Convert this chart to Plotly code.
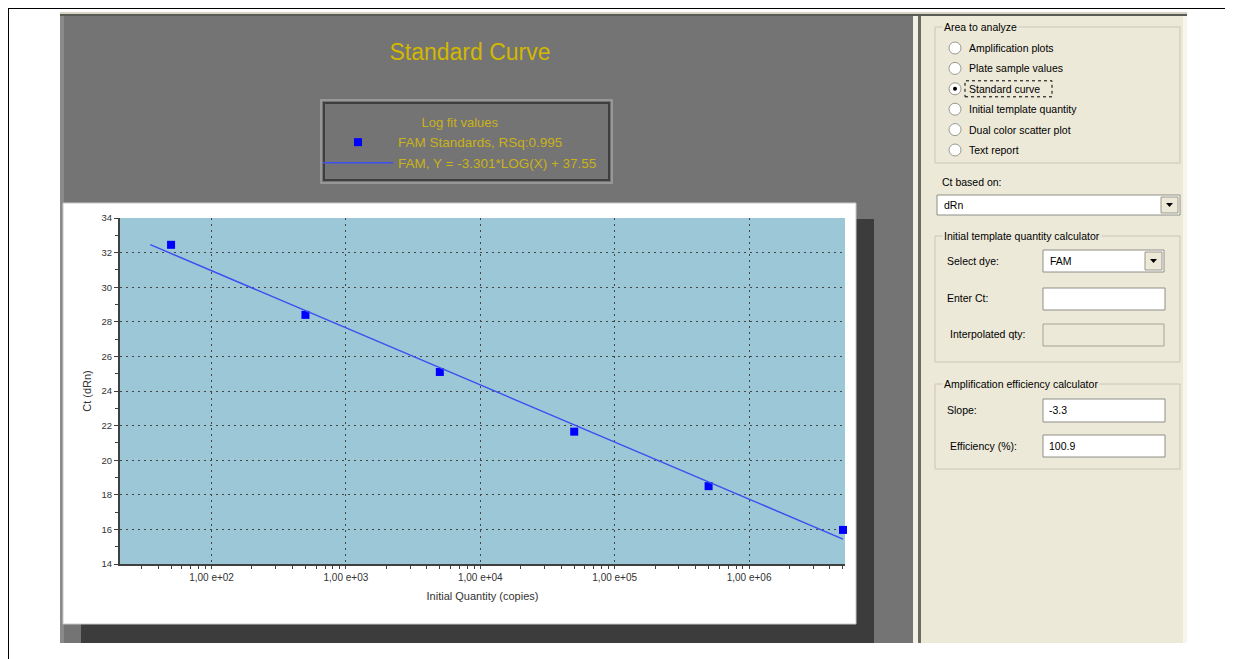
import plotly.graph_objects as go

# ---------------- data ----------------
quantity = [50, 500, 5000, 50000, 500000, 5000000]
ct_values = [32.45, 28.4, 25.1, 21.65, 18.5, 15.97]
fit_quantity = [35, 5000000]
fit_ct = [32.46, 15.44]
x_tick_vals = [1e2, 1e3, 1e4, 1e5, 1e6]
x_tick_text = ["1,00 e+02", "1,00 e+03", "1,00 e+04", "1,00 e+05", "1,00 e+06"]
radio_items = ["Amplification plots", "Plate sample values", "Standard curve",
               "Initial template quantity", "Dual color scatter plot", "Text report"]
selected_item = "Standard curve"

# ---------------- geometry helpers (screen pixel coords) ----------------
OFF = 8                      # page body margin of the html page
W, H = 1233 - OFF, 659 - OFF
L, R, T, B = 120, 845, 218, 564


def fx(x):
    return (x - L) / (R - L)


def fy(y):
    return (B - y) / (B - T)


shapes = []


def rect(x0, y0, x1, y1, fill=None, line=None, lw=1, dash="solid"):
    shapes.append(dict(type="rect", xref="paper", yref="paper",
                       x0=fx(x0), x1=fx(x1), y0=fy(y1), y1=fy(y0),
                       fillcolor=fill if fill else "rgba(0,0,0,0)",
                       line=dict(color=line if line else "rgba(0,0,0,0)",
                                 width=lw if line else 0, dash=dash),
                       layer="below"))


def hline(x0, x1, y, color, lw=1):
    shapes.append(dict(type="line", xref="paper", yref="paper",
                       x0=fx(x0), x1=fx(x1), y0=fy(y), y1=fy(y),
                       line=dict(color=color, width=lw), layer="below"))


def vline(x, y0, y1, color, lw=1):
    shapes.append(dict(type="line", xref="paper", yref="paper",
                       x0=fx(x), x1=fx(x), y0=fy(y0), y1=fy(y1),
                       line=dict(color=color, width=lw), layer="below"))


def circle(cx, cy, r, fill, line=None, lw=1):
    shapes.append(dict(type="circle", xref="paper", yref="paper",
                       x0=fx(cx - r), x1=fx(cx + r), y0=fy(cy + r), y1=fy(cy - r),
                       fillcolor=fill,
                       line=dict(color=line if line else "rgba(0,0,0,0)", width=lw if line else 0),
                       layer="below"))


def tri(cx, cy):
    shapes.append(dict(type="path", xref="paper", yref="paper", layer="below",
                       path="M {} {} L {} {} L {} {} Z".format(fx(cx - 3.5), fy(cy - 2), fx(cx + 3.5), fy(cy - 2),
                                                             fx(cx), fy(cy + 2)),
                       fillcolor="#000000", line=dict(width=0)))


annotations = []
UI_FONT = "Liberation Sans"


def text(x, y, s, size=10.5, color="#000000", anchor="left", bg=None, family=UI_FONT):
    a = dict(x=fx(x), y=fy(y), xref="paper", yref="paper", text=s, showarrow=False,
             xanchor=anchor, yanchor="middle",
             font=dict(family=family, size=size, color=color))
    if bg:
        a.update(bgcolor=bg, borderpad=1)
    annotations.append(a)


# ---------------- window frame ----------------
hline(7, 1233, 8, "#000000", 2)
vline(8, 7, 659, "#000000", 2)

GRAY = "#747474"
BEIGE = "#ECE9D8"
rect(60, 12, 1187, 643, fill=GRAY)
rect(60, 12, 1187, 14, fill="#d8d4c4")
rect(60, 14, 1187, 16, fill="#5a5a55")
rect(60, 16, 64, 643, fill="#8a8a8a")
# divider + right panel
rect(913, 16, 918, 643, fill="#f3f1e6")
rect(918, 16, 921, 643, fill="#6c6b62")
rect(921, 16, 1187, 643, fill=BEIGE)
rect(1183, 16, 1187, 643, fill="#f8f6ec")

# chart panel: shadow, white box, plot background
rect(81, 219, 874, 643, fill="#3c3c3c")
rect(63, 203, 856, 624, fill="#ffffff", line="#c8c8c8", lw=1)
rect(L, T, R, B, fill="#9bc7d7")

# legend frame (groove)
rect(321, 100, 612, 183, line="#a2a2a2", lw=1.5)
rect(324, 103, 609, 180, line="#3e3e3e", lw=2)

# ---------------- right panel widgets ----------------
FRAME = "#c9c6b6"
rect(935, 27, 1180, 163, line=FRAME, lw=1)
text(942, 27, "Area to analyze", bg=BEIGE)
for i, item in enumerate(radio_items):
    cy = 48 + i * 20.4
    circle(955, cy, 6, "#ffffff", "#9a9a90", 1)
    if item == selected_item:
        circle(955, cy, 2, "#000000")
        rect(965, cy - 8, 1052, cy + 8, line="#000000", lw=1, dash="dot")
    text(967, cy, item)

text(940, 182, "Ct based on:")
rect(937, 195, 1180, 215, fill="#ffffff", line="#8e8e86", lw=1)
text(942, 205, "dRn")
rect(1161, 197, 1178, 213, fill=BEIGE, line="#9a978a", lw=1)
tri(1169.5, 205)

rect(935, 236, 1180, 362, line=FRAME, lw=1)
text(942, 236, "Initial template quantity calculator", bg=BEIGE)
text(945, 261, "Select dye:")
rect(1043, 250, 1164, 272, fill="#ffffff", line="#8e8e86", lw=1)
text(1048, 261, "FAM")
rect(1145, 252, 1162, 270, fill=BEIGE, line="#9a978a", lw=1)
tri(1153.5, 261)
text(945, 298, "Enter Ct:")
rect(1043, 288, 1165, 310, fill="#ffffff", line="#8e8e86", lw=1)
text(948, 334, "Interpolated qty:")
rect(1043, 324, 1164, 346, fill=BEIGE, line="#a5a398", lw=1)

rect(935, 384, 1180, 469, line=FRAME, lw=1)
text(942, 384, "Amplification efficiency calculator", bg=BEIGE)
text(945, 410, "Slope:")
rect(1043, 399, 1165, 422, fill="#ffffff", line="#8e8e86", lw=1)
text(1047, 410, "-3.3")
text(948, 446, "Efficiency (%):")
rect(1043, 435, 1165, 457, fill="#ffffff", line="#8e8e86", lw=1)
text(1047, 446, "100.9")

# ---------------- traces ----------------
GOLD = "#c9b21a"
fig = go.Figure()
fig.add_trace(go.Scatter(
    x=quantity, y=ct_values, mode="markers", name="FAM Standards, RSq:0.995",
    marker=dict(symbol="square", size=8, color="#0000ff", line=dict(width=0)),
    cliponaxis=False))
fig.add_trace(go.Scatter(
    x=fit_quantity, y=fit_ct, mode="lines", name="FAM, Y = -3.301*LOG(X) + 37.55",
    line=dict(color="#3d4ff0", width=1.5)))

fig.update_layout(
    width=W, height=H,
    margin=dict(l=L - OFF, r=(W + OFF) - R, t=T - OFF, b=(H + OFF) - B, pad=0),
    paper_bgcolor="#ffffff",
    plot_bgcolor="rgba(0,0,0,0)",
    font=dict(family="Liberation Sans", color="#333333"),
    title=dict(text="Standard Curve", x=(470 - OFF) / W, xref="container", xanchor="center",
               y=1 - (52 - OFF) / H, yref="container", yanchor="middle",
               font=dict(family="Liberation Sans", size=23, color="#d2b800")),
    showlegend=True,
    legend=dict(x=fx(318), y=fy(110), xanchor="left", yanchor="top",
                bgcolor="rgba(0,0,0,0)", borderwidth=0, itemwidth=70,
                font=dict(family="Liberation Sans", size=13.5, color=GOLD),
                title=dict(text="Log fit values", side="top center",
                           font=dict(family="Liberation Sans", size=13, color=GOLD))),
    shapes=shapes,
    annotations=annotations,
)

fig.update_xaxes(
    type="log", range=[1.319, 6.714],
    tickmode="array", tickvals=x_tick_vals, ticktext=x_tick_text,
    tickfont=dict(family="Liberation Sans", size=10, color="#333333"),
    ticks="outside", ticklen=3, tickcolor="#404040",
    minor=dict(dtick="D1", ticks="outside", ticklen=3, tickcolor="#404040", showgrid=False),
    showline=True, linecolor="#404040", linewidth=2,
    showgrid=True, gridcolor="#454545", gridwidth=1, griddash="2px,4px",
    zeroline=False,
    title=dict(text="Initial Quantity (copies)", standoff=10,
               font=dict(family="Liberation Sans", size=11, color="#333333")),
)
fig.update_yaxes(
    range=[14, 34], dtick=2, tick0=14,
    tickfont=dict(family="Liberation Sans", size=9.5, color="#333333"),
    ticks="outside", ticklen=4, tickcolor="#404040",
    minor=dict(dtick=1, ticks="outside", ticklen=3, tickcolor="#404040", showgrid=False),
    showline=True, linecolor="#404040", linewidth=2,
    showgrid=True, gridcolor="#454545", gridwidth=1, griddash="2px,4px",
    zeroline=False,
    title=dict(text="Ct (dRn)", standoff=8,
               font=dict(family="Liberation Sans", size=11, color="#333333")),
)

fig.write_html("out.html")
